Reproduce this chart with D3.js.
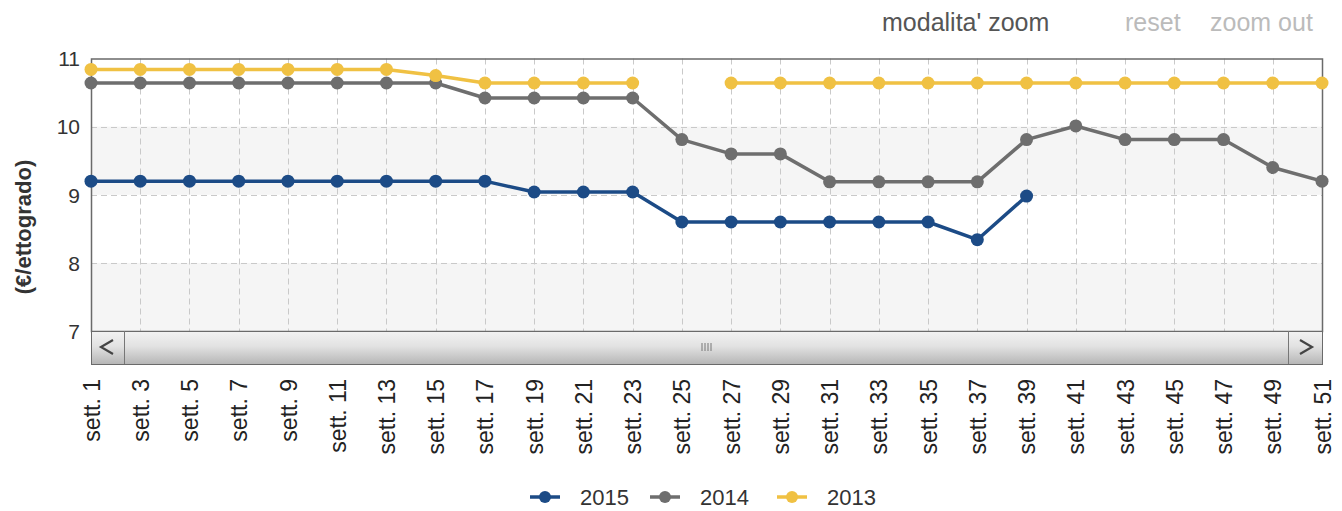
<!DOCTYPE html>
<html>
<head>
<meta charset="utf-8">
<script src="https://cdn.jsdelivr.net/npm/d3@7"></script>
<style>
  html, body { margin: 0; padding: 0; background: #fff; }
  svg { display: block; font-family: "Liberation Sans", Arial, sans-serif; }
</style>
</head>
<body>
<svg id="chart" width="1342" height="511"></svg>
<script>
// Weekly price series (€/ettogrado), one value per labelled week
const weeks = ["sett. 1","sett. 3","sett. 5","sett. 7","sett. 9","sett. 11","sett. 13","sett. 15","sett. 17",
  "sett. 19","sett. 21","sett. 23","sett. 25","sett. 27","sett. 29","sett. 31","sett. 33","sett. 35",
  "sett. 37","sett. 39","sett. 41","sett. 43","sett. 45","sett. 47","sett. 49","sett. 51"];

const values2015 = [9.2, 9.2, 9.2, 9.2, 9.2, 9.2, 9.2, 9.2, 9.2,
  9.04, 9.04, 9.04, 8.6, 8.6, 8.6, 8.6, 8.6, 8.6,
  8.34, 8.98, null, null, null, null, null, null];

const values2014 = [10.64, 10.64, 10.64, 10.64, 10.64, 10.64, 10.64, 10.64, 10.42,
  10.42, 10.42, 10.42, 9.81, 9.6, 9.6, 9.19, 9.19, 9.19,
  9.19, 9.81, 10.01, 9.81, 9.81, 9.81, 9.4, 9.2];

const values2013 = [10.84, 10.84, 10.84, 10.84, 10.84, 10.84, 10.84, 10.75, 10.64,
  10.64, 10.64, 10.64, null, 10.64, 10.64, 10.64, 10.64, 10.64,
  10.64, 10.64, 10.64, 10.64, 10.64, 10.64, 10.64, 10.64];

const yTicks = [7, 8, 9, 10, 11];

const series = [
  { name: "2015", values: values2015, color: "#1c4b86" },
  { name: "2014", values: values2014, color: "#6e6e6e" },
  { name: "2013", values: values2013, color: "#f0c143" }
];

const svg = d3.select("#chart");
const plot = { left: 91, right: 1322, top: 58.5, bottom: 331 };

const x = d3.scalePoint().domain(weeks).range([plot.left, plot.right]);
const y = d3.scaleLinear().domain([7, 11]).range([plot.bottom, plot.top]);

// Alternating horizontal bands
const bandG = svg.append("g");
for (let i = 0; i < yTicks.length - 1; i++) {
  if (i % 2 === 0) {
    bandG.append("rect")
      .attr("x", plot.left).attr("width", plot.right - plot.left)
      .attr("y", y(yTicks[i + 1])).attr("height", y(yTicks[i]) - y(yTicks[i + 1]))
      .attr("fill", "#f5f5f5");
  }
}

// Dashed grid lines
const grid = svg.append("g").attr("stroke", "#c9c9c9").attr("stroke-dasharray", "6,4").attr("stroke-width", 1);
grid.selectAll("line.h").data(yTicks.slice(1, -1)).join("line")
  .attr("x1", plot.left).attr("x2", plot.right)
  .attr("y1", d => Math.round(y(d)) + 0.5).attr("y2", d => Math.round(y(d)) + 0.5);
grid.selectAll("line.v").data(weeks.slice(1, -1)).join("line")
  .attr("y1", plot.top).attr("y2", plot.bottom)
  .attr("x1", d => Math.round(x(d)) + 0.5).attr("x2", d => Math.round(x(d)) + 0.5);

// Plot border
svg.append("rect")
  .attr("x", plot.left + 0.5).attr("y", plot.top + 0.5)
  .attr("width", plot.right - plot.left).attr("height", plot.bottom - plot.top)
  .attr("fill", "none").attr("stroke", "#6a6a6a").attr("stroke-width", 1.5);

// Y axis
const yAxis = svg.append("g")
  .attr("transform", `translate(${plot.left - 11},0)`)
  .call(d3.axisLeft(y).tickValues(yTicks).tickSize(0).tickFormat(d3.format("d")));
yAxis.select(".domain").remove();
yAxis.selectAll("text")
  .attr("font-size", 21).attr("fill", "#333").attr("x", 0).attr("dy", "0.35em")
  .attr("font-family", "Liberation Sans, Arial, sans-serif");

svg.append("text")
  .attr("transform", `translate(31,227) rotate(-90)`)
  .attr("text-anchor", "middle")
  .attr("font-size", 22).attr("font-weight", "bold").attr("fill", "#333")
  .text("(€/ettogrado)");

// Scrollbar under the plot
const sb = { top: 331, bottom: 364 };
const defs = svg.append("defs");
const grad = defs.append("linearGradient").attr("id", "sbGrad").attr("x1", 0).attr("x2", 0).attr("y1", 0).attr("y2", 1);
grad.append("stop").attr("offset", "0%").attr("stop-color", "#f2f2f2");
grad.append("stop").attr("offset", "45%").attr("stop-color", "#e2e2e2");
grad.append("stop").attr("offset", "100%").attr("stop-color", "#b5b5b5");
svg.append("rect")
  .attr("x", plot.left + 0.5).attr("y", sb.top + 0.5)
  .attr("width", plot.right - plot.left).attr("height", sb.bottom - sb.top)
  .attr("fill", "url(#sbGrad)").attr("stroke", "#6a6a6a").attr("stroke-width", 1);
svg.append("line").attr("x1", plot.left + 33.5).attr("x2", plot.left + 33.5)
  .attr("y1", sb.top).attr("y2", sb.bottom).attr("stroke", "#777");
svg.append("line").attr("x1", plot.right - 33.5).attr("x2", plot.right - 33.5)
  .attr("y1", sb.top).attr("y2", sb.bottom).attr("stroke", "#777");
svg.append("path")
  .attr("d", `M${plot.left + 22},${sb.top + 9} L${plot.left + 10},${sb.top + 16} L${plot.left + 22},${sb.top + 23}`)
  .attr("fill", "none").attr("stroke", "#444").attr("stroke-width", 2.2);
svg.append("path")
  .attr("d", `M${plot.right - 22},${sb.top + 9} L${plot.right - 10},${sb.top + 16} L${plot.right - 22},${sb.top + 23}`)
  .attr("fill", "none").attr("stroke", "#444").attr("stroke-width", 2.2);
const gripX = (plot.left + plot.right) / 2;
[-4.5, -1.5, 1.5, 4.5].forEach(o => {
  svg.append("line").attr("x1", gripX + o).attr("x2", gripX + o)
    .attr("y1", sb.top + 12).attr("y2", sb.top + 20).attr("stroke", "#777").attr("stroke-width", 1);
});

// X axis labels (rotated)
const xAxis = svg.append("g")
  .attr("transform", `translate(0,${sb.bottom + 15})`)
  .call(d3.axisBottom(x).tickSize(0));
xAxis.select(".domain").remove();
xAxis.selectAll("text")
  .attr("font-size", 23).attr("fill", "#222")
  .attr("font-family", "Liberation Sans, Arial, sans-serif")
  .attr("text-anchor", "end")
  .attr("transform", "rotate(-90)")
  .attr("x", 0).attr("y", 0).attr("dx", 0).attr("dy", "0.35em");

// Series lines and markers
const line = d3.line()
  .defined(d => d.v != null)
  .x(d => x(d.w)).y(d => y(d.v));

series.forEach(s => {
  const pts = weeks.map((w, i) => ({ w, v: s.values[i] }));
  const g = svg.append("g");
  g.append("path").datum(pts)
    .attr("d", line).attr("fill", "none")
    .attr("stroke", s.color).attr("stroke-width", 3.5).attr("stroke-linejoin", "round");
  g.selectAll("circle").data(pts.filter(d => d.v != null)).join("circle")
    .attr("cx", d => x(d.w)).attr("cy", d => y(d.v)).attr("r", 6.5)
    .attr("fill", s.color);
});

// Legend
const legendX = [530, 650, 777];
series.forEach((s, i) => {
  const g = svg.append("g").attr("transform", `translate(${legendX[i]},497)`);
  g.append("line").attr("x1", 0).attr("x2", 30).attr("y1", 0).attr("y2", 0)
    .attr("stroke", s.color).attr("stroke-width", 3.5);
  g.append("circle").attr("cx", 15).attr("cy", 0).attr("r", 6).attr("fill", s.color);
  g.append("text").attr("x", 50).attr("y", 8).attr("font-size", 22).attr("fill", "#333").text(s.name);
});

// Zoom controls
svg.append("text").attr("x", 882).attr("y", 31).attr("font-size", 25).attr("fill", "#555").text("modalita' zoom");
svg.append("text").attr("x", 1125).attr("y", 31).attr("font-size", 25).attr("fill", "#bbb").text("reset");
svg.append("text").attr("x", 1210).attr("y", 31).attr("font-size", 25).attr("fill", "#bbb").text("zoom out");
</script>
</body>
</html>
